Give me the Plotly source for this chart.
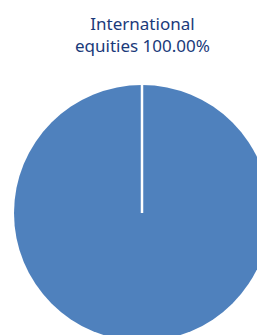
import plotly.graph_objects as go

labels = ["International equities"]
values = [100.0]
colors = ["#4f81bd"]

W, H = 284, 426
ML, MR, MT, MB = 14, 14, 85, 85

fig = go.Figure()
fig.add_trace(go.Pie(
    labels=labels, values=values, sort=False, direction="clockwise", rotation=0,
    marker=dict(colors=colors, line=dict(color="white", width=0)),
    textinfo="none", hoverinfo="label+percent", showlegend=False,
))
# slice border at the start angle (decorative)
fig.add_shape(type="line", xref="paper", yref="paper", x0=0.5, y0=0.5, x1=0.5, y1=1.0,
              line=dict(color="white", width=2.5))

title_text = f"{labels[0].split(' ')[0]}<br>{labels[0].split(' ')[1]} {values[0]:.2f}%"
fig.add_annotation(text=title_text, xref="paper", yref="paper", x=0.5, y=(H - MB - 34) / (H - MT - MB),
                   xanchor="center", yanchor="middle", showarrow=False,
                   font=dict(family="Noto Sans", size=17, color="#1a3a7a"))

fig.update_layout(width=W, height=H, margin=dict(l=ML, r=MR, t=MT, b=MB),
                  paper_bgcolor="white", plot_bgcolor="white")
fig.write_html("out.html", config={"displayModeBar": False},
               post_script="document.body.style.margin='0';document.body.style.overflow='hidden';document.documentElement.style.overflow='hidden';")
